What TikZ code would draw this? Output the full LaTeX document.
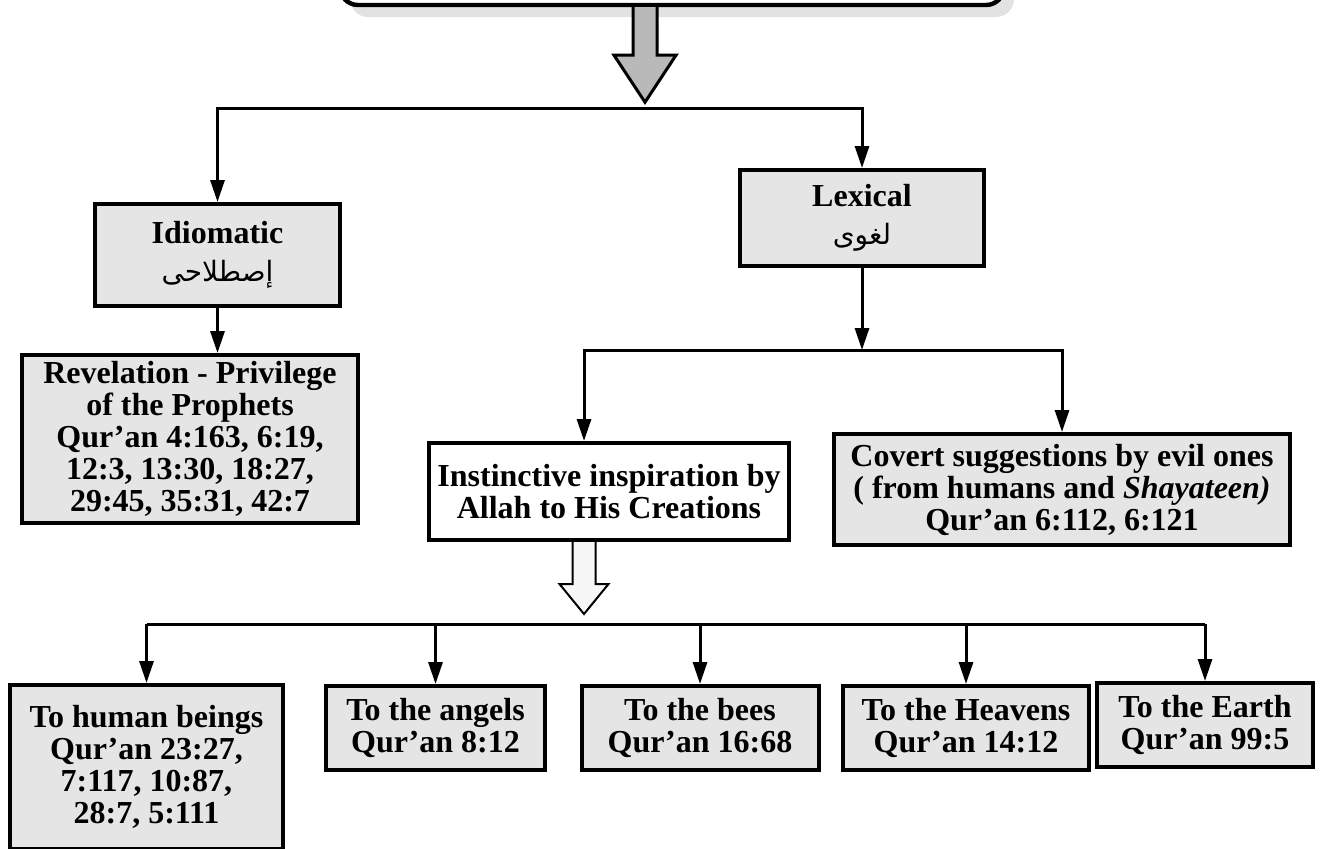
\documentclass[tikz,border=0pt]{standalone}
\usepackage{fontspec}
\setmainfont{Liberation Serif}
\newfontfamily\arabicfont[Script=Arabic]{DejaVu Sans}
\TeXXeTstate=1
\usetikzlibrary{arrows.meta,shadows}

\begin{document}
\begin{tikzpicture}[
    x=0.5pt, y=-0.5pt,
    box/.style={
        rectangle,
        draw=black,
        line width=2pt,
        fill=gray!20,
        align=center,
        inner xsep=4pt,
        inner ysep=2pt,
        font=\fontsize{16pt}{16pt}\selectfont\bfseries
    },
    plainbox/.style={box, fill=white},
    link/.style={-{Triangle[width=7pt,length=11pt]}, line width=1.5pt},
    rail/.style={line width=1.5pt},
    fat/.style={draw=black, line width=1.5pt, line join=miter}
]

\useasboundingbox (0,0) rectangle (1331,848);

% Nodes
\node[box, fill=white, rounded corners=9pt, line width=2.2pt,
      minimum width=332pt, minimum height=45pt,
      drop shadow={shadow xshift=5pt, shadow yshift=-6pt, fill=gray!45}] (top) at (672,-40) {};
\node[box, minimum width=122.5pt, minimum height=51pt] (idio) at (217.5,255)
    {Idiomatic\\[3pt]{\arabicfont\mdseries\fontsize{14pt}{16pt}\selectfont\beginR إصطلاحى\endR}};
\node[box, minimum width=122pt, minimum height=48pt] (lex) at (862,218)
    {Lexical\\[3pt]{\arabicfont\mdseries\fontsize{14pt}{16pt}\selectfont\beginR لغوى\endR}};
\node[box, minimum width=168pt, minimum height=84pt] (revel) at (190,439)
    {Revelation - Privilege\\of the Prophets\\Qur’an 4:163, 6:19,\\12:3, 13:30, 18:27,\\29:45, 35:31, 42:7};
\node[plainbox, minimum width=179pt, minimum height=48.5pt] (inst) at (609,491.5)
    {Instinctive inspiration by\\Allah to His Creations};
\node[box, minimum width=228pt, minimum height=55.5pt] (covert) at (1062,489.5)
    {Covert suggestions by evil ones\\( from humans and \textit{Shayateen)}\\Qur’an 6:112, 6:121};
\node[box, minimum width=136.5pt, minimum height=82pt] (human) at (146.5,767)
    {To human beings\\Qur’an 23:27,\\7:117, 10:87,\\28:7, 5:111};
\node[box, minimum width=109.5pt, minimum height=42pt] (angels) at (435.5,728)
    {To the angels\\Qur’an 8:12};
\node[box, minimum width=118.5pt, minimum height=42pt] (bees) at (700,728)
    {To the bees\\Qur’an 16:68};
\node[box, minimum width=123pt, minimum height=42pt] (heavens) at (966,728)
    {To the Heavens\\Qur’an 14:12};
\node[box, minimum width=108pt, minimum height=42pt] (earth) at (1205,725)
    {To the Earth\\Qur’an 99:5};

% Junctions
\coordinate (j1) at (645,108);
\coordinate (j2) at (862,350);
\coordinate (j3) at (584,624);

% Block arrows
\filldraw[fat, fill=gray!55]
    (top.south -| j1) ++(-12,0) -- ++(0,48) -- ++(-19,0) -- ++(31,47)
    -- ++(31,-47) -- ++(-19,0) -- ++(0,-48);
\filldraw[fat, line width=1pt, fill=gray!6]
    (inst.south -| j3) ++(-11.5,0) -- ++(0,42) -- ++(-13,0) -- ++(24.5,30)
    -- ++(24.5,-30) -- ++(-13,0) -- ++(0,-42);

% Arrows
\draw[link] (j1) -| (idio.north);
\draw[link] (j1) -| (lex.north);
\draw[link] (idio.south) -- (idio.south |- revel.north);
\draw[link] (lex.south) -- (j2);
\draw[link] (j2) -| (inst.north -| j3);
\draw[link] (j2) -| (covert.north);
\draw[rail] (human.north |- j3) -- (earth.north |- j3);
\draw[link] (human.north |- j3) -- (human.north);
\draw[link] (angels.north |- j3) -- (angels.north);
\draw[link] (bees.north |- j3) -- (bees.north);
\draw[link] (heavens.north |- j3) -- (heavens.north);
\draw[link] (earth.north |- j3) -- (earth.north);

\end{tikzpicture}
\end{document}
